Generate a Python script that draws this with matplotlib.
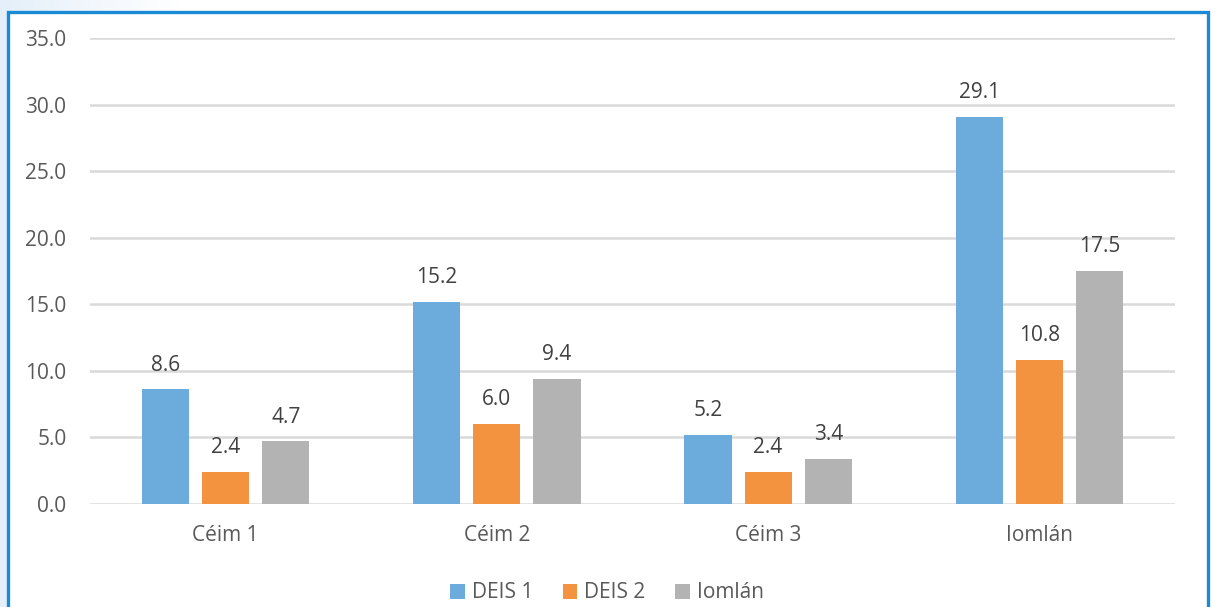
import matplotlib.pyplot as plt
import numpy as np
from matplotlib.patches import Rectangle

# DATA
categories = ['Céim 1', 'Céim 2', 'Céim 3', 'Iomlán']
series_names = ['DEIS 1', 'DEIS 2', 'Iomlán']
deis1 = [8.6, 15.2, 5.2, 29.1]
deis2 = [2.4, 6.0, 2.4, 10.8]
iomlan = [4.7, 9.4, 3.4, 17.5]
yticks = [0, 5, 10, 15, 20, 25, 30, 35]

colors = ['#6cacdc', '#f39340', '#b3b3b3']
text_col = '#595959'
plt.rcParams['font.family'] = ['Open Sans', 'DejaVu Sans']
fs = 15

fig = plt.figure(figsize=(12.14, 6.07), dpi=100)
fig.patch.set_facecolor('white')

# pale blue backdrop fading out to the right
bg = fig.add_axes([0, 0, 1, 1], zorder=-10)
grad = np.clip(1 - np.linspace(0, 1, 1214) * 1214 / 180, 0, 1)[None, :]
bg.imshow(grad, aspect='auto', cmap=plt.matplotlib.colors.LinearSegmentedColormap.from_list(
    'bgc', ['white', '#e4eff9']), extent=[0, 1, 0, 1], vmin=0, vmax=1)
bg.add_patch(Rectangle((7.5 / 1214, -0.05), 1200 / 1214, 1 - 11.5 / 607 + 0.05,
                       transform=bg.transAxes, facecolor='white',
                       edgecolor='#1a8ad4', linewidth=2.4))
bg.set_xlim(0, 1)
bg.set_ylim(0, 1)
bg.axis('off')

ax = fig.add_axes([90 / 1214, 103 / 607, 1085 / 1214, 466 / 607])
ax.set_facecolor('none')

x = np.arange(len(categories))
w = 0.174
step = 0.222
for i, (vals, name) in enumerate(zip([deis1, deis2, iomlan], series_names)):
    bars = ax.bar(x + (i - 1) * step, vals, width=w, color=colors[i], label=name, zorder=3)
    for b, v in zip(bars, vals):
        ax.annotate(f'{v:.1f}', (b.get_x() + b.get_width() / 2, v), xytext=(0, 10),
                    textcoords='offset points', ha='center', va='bottom',
                    fontsize=fs, color='#404040')

ax.set_xlim(-0.5, len(categories) - 0.5)
ax.set_ylim(0, 35)
ax.set_yticks(yticks)
ax.set_yticklabels([f'{t:.1f}' for t in yticks])
ax.set_xticks(x)
ax.set_xticklabels(categories)
ax.tick_params(axis='both', length=0, labelsize=fs, labelcolor=text_col)
ax.tick_params(axis='y', pad=17)
ax.tick_params(axis='x', pad=15)
ax.yaxis.grid(True, color='#d9d9d9', linewidth=1.8, zorder=0)
for s in ax.spines.values():
    s.set_visible(False)

leg = fig.legend(loc='center', bbox_to_anchor=(0.5, 14 / 607), ncol=3, frameon=False,
                 fontsize=fs, handlelength=0.7, handleheight=0.7, handletextpad=0.35,
                 columnspacing=1.4)
for t in leg.get_texts():
    t.set_color(text_col)

fig.savefig('out.png', dpi=100)
